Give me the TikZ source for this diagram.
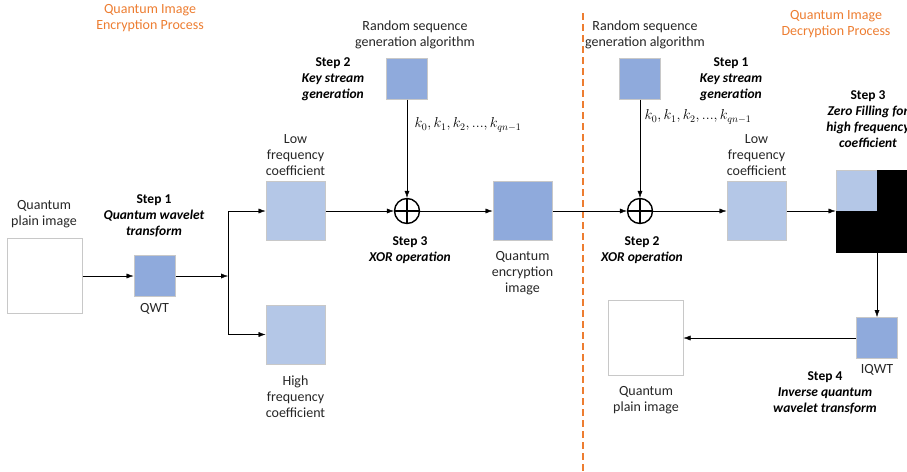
\documentclass[tikz,border=0pt]{standalone}
\usepackage{fontspec}
\setmainfont{Carlito}
\usetikzlibrary{arrows.meta}
\definecolor{mid_blue}{RGB}{143,170,220}
\definecolor{light_blue}{RGB}{180,199,231}
\definecolor{box_gray}{RGB}{200,200,200}
\definecolor{title_orange}{RGB}{237,125,49}
\definecolor{text_gray}{RGB}{38,38,38}

\begin{document}
\begin{tikzpicture}[x=1pt,y=-1pt,
	blk/.style={draw=box_gray,line width=1pt,inner sep=0pt,minimum size=#1},
	lbl/.style={align=center,font=\fontsize{14}{16}\selectfont,text=text_gray},
	stp/.style={align=center,font=\fontsize{13.5}{16}\selectfont\bfseries\itshape},
	ttl/.style={align=center,font=\fontsize{14}{16}\selectfont,text=title_orange},
	xor/.style={circle,draw=black,line width=1.4pt,minimum size=25pt,inner sep=0pt,
		path picture={\draw[line width=1.2pt] (path picture bounding box.north) -- (path picture bounding box.south)
			(path picture bounding box.west) -- (path picture bounding box.east);}},
	>={Latex[length=7pt,width=5pt]}]
	\useasboundingbox (0,0) rectangle (907,471);

	% encryption side
	\node[ttl] (ttlL) at (150,18) {Quantum Image\\Encryption Process};
	\node[blk=75pt,fill=white] (plainL) at (44.5,276) {};
	\node[lbl] (plainLtxt) at (44,214) {Quantum\\plain image};
	\node[blk=41pt,fill=mid_blue] (qwt) at (154.5,276) {};
	\node[lbl] (qwttxt) at (154.5,309) {QWT};
	\node[stp] (step1L) at (154,216) {\textup{Step 1}\\Quantum wavelet\\transform};
	\coordinate (jn) at (228,276);
	\coordinate (jtop) at (228,211);
	\coordinate (jbot) at (228,334.5);
	\node[blk=59pt,fill=light_blue] (lowL) at (295.5,211) {};
	\node[lbl] (lowLtxt) at (295.5,155) {Low\\frequency\\coefficient};
	\node[blk=59pt,fill=light_blue] (highL) at (295.5,334.5) {};
	\node[lbl] (highLtxt) at (295.5,397) {High\\frequency\\coefficient};
	\node[lbl] (randL) at (415,35) {Random sequence\\generation algorithm};
	\node[blk=41pt,fill=mid_blue] (keyL) at (407,78.5) {};
	\node[stp] (step2L) at (333,79) {\textup{Step 2}\\Key stream\\generation};
	\node[anchor=west,font=\fontsize{14.5}{16}\selectfont] (kL) at (411,125) {$k_0, k_1, k_2, ..., k_{qn-1}$};
	\node[xor] (xorL) at (407,211) {};
	\node[stp] (step3L) at (410,250) {\textup{Step 3}\\XOR operation};
	\node[blk=59pt,fill=mid_blue] (enc) at (522.5,211) {};
	\node[lbl] (enctxt) at (522.5,273) {Quantum\\encryption\\image};

	\draw[draw=title_orange,line width=1.2pt,dash pattern=on 7pt off 4pt] (583,13) -- (583,471);

	% decryption side
	\node[ttl] (ttlR) at (836,24) {Quantum Image\\Decryption Process};
	\node[lbl] (randR) at (645,35) {Random sequence\\generation algorithm};
	\node[blk=41pt,fill=mid_blue] (keyR) at (640,78.5) {};
	\node[stp] (step1R) at (731,79) {\textup{Step 1}\\Key stream\\generation};
	\node[anchor=west,font=\fontsize{14.5}{16}\selectfont] (kR) at (641,117) {$k_0, k_1, k_2, ..., k_{qn-1}$};
	\node[xor] (xorR) at (640,211) {};
	\node[stp] (step2R) at (642,250) {\textup{Step 2}\\XOR operation};
	\node[blk=59pt,fill=light_blue] (lowR) at (756.5,211) {};
	\node[lbl] (lowRtxt) at (756.5,155) {Low\\frequency\\coefficient};
	\node[stp] (step3R) at (868,119) {\textup{Step 3}\\Zero Filling for\\high frequency\\coefficient};
	\node[blk=41pt,fill=light_blue] (zf1) at (856.5,190.5) {};
	\node[blk=41pt,fill=black,draw=black] (zf2) at (897.5,190.5) {};
	\node[blk=41pt,fill=black,draw=black] (zf3) at (856.5,231.5) {};
	\node[blk=41pt,fill=black,draw=black] (zf4) at (897.5,231.5) {};
	\node[blk=41pt,fill=mid_blue] (iqwt) at (877,338) {};
	\node[lbl] (iqwttxt) at (877,370) {IQWT};
	\node[stp] (step4) at (825,393) {\textup{Step 4}\\Inverse quantum\\wavelet transform};
	\node[blk=75pt,fill=white] (plainR) at (645.5,338) {};
	\node[lbl] (plainRtxt) at (646,400) {Quantum\\plain image};

	\draw[->] (plainL) -- (qwt);
	\draw[->] (qwt) -- (jn);
	\draw (jtop) -- (jbot);
	\foreach \a/\b in {jtop/lowL,jbot/highL,keyL/xorL,lowL/xorL,xorL/enc,enc/xorR,keyR/xorR,xorR/lowR,iqwt/plainR}
		\draw[->] (\a) -- (\b);
	\draw[->] (lowR.east) -- (lowR.east -| zf1.west);
	\draw[->] (iqwt.north |- zf3.south) -- (iqwt.north);
\end{tikzpicture}
\end{document}
